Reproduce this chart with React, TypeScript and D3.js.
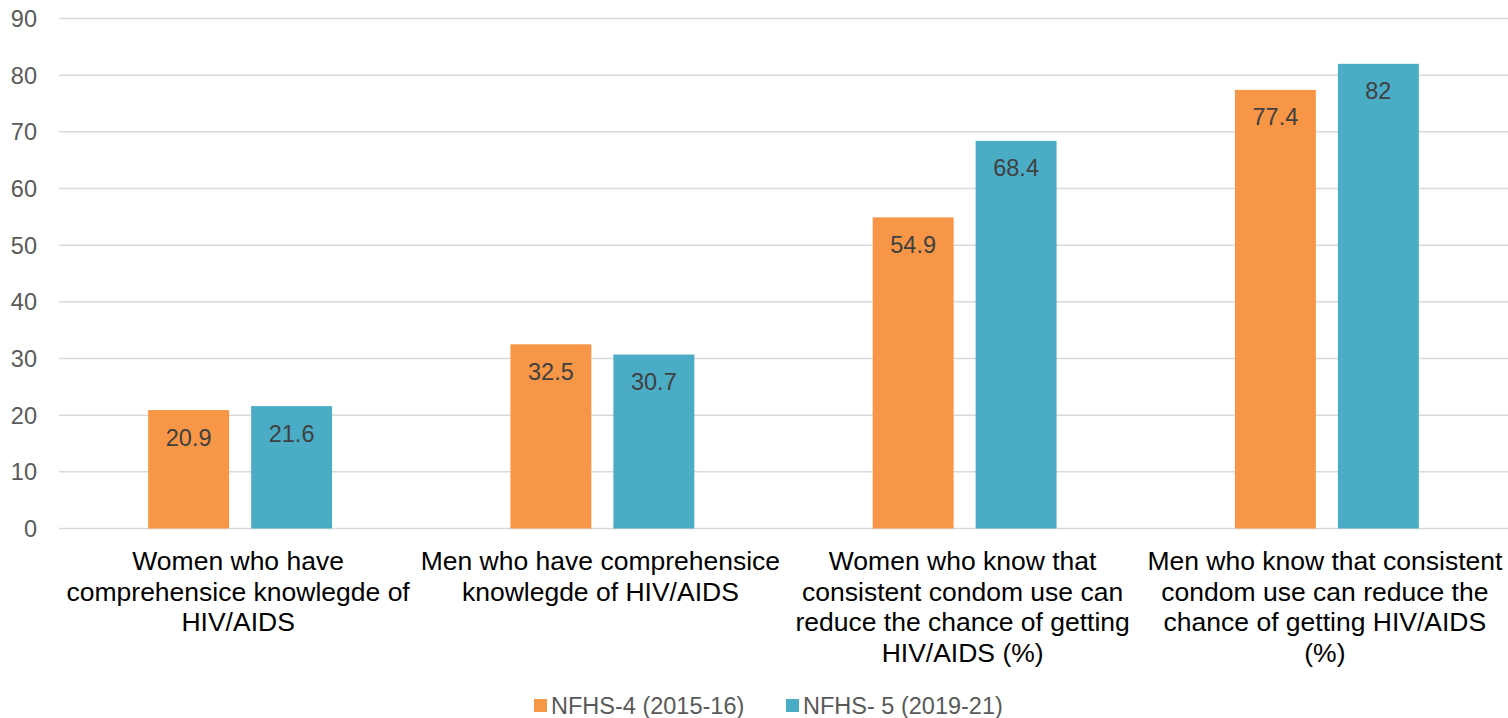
import React from "react";
import * as d3 from "d3";

const categories = [
  "Women who have\ncomprehensice knowlegde of\nHIV/AIDS",
  "Men who have comprehensice\nknowlegde of HIV/AIDS",
  "Women who know that\nconsistent condom use can\nreduce the chance of getting\nHIV/AIDS (%)",
  "Men who know that consistent\ncondom use can reduce the\nchance of getting HIV/AIDS\n(%)",
];
const seriesNames = ["NFHS-4 (2015-16)", "NFHS- 5 (2019-21)"];
const nfhs4 = [20.9, 32.5, 54.9, 77.4];
const nfhs5 = [21.6, 30.7, 68.4, 82];
const yTicks = [0, 10, 20, 30, 40, 50, 60, 70, 80, 90];
const colors = ["#F79646", "#4BACC6"];

export default function App() {
  const W = 1508;
  const H = 718;
  const x0 = d3.scaleBand<number>().domain(d3.range(categories.length)).range([59, 1508]).paddingInner(0).paddingOuter(0);
  const x1 = d3.scaleBand<number>().domain([0, 1]).range([0, x0.bandwidth()]).paddingInner(0.214).paddingOuter(0.866);
  const y = d3.scaleLinear().domain([0, 90]).range([528.5, 18.5]);
  const values = [nfhs4, nfhs5];
  const font = "'Liberation Sans', Arial, sans-serif";

  return (
    <svg width={W} height={H} style={{ position: "absolute", left: 0, top: 0, background: "#fff" }} fontFamily={font}>
      {yTicks.map((t) => (
        <g key={t}>
          <line x1={59} x2={1508} y1={y(t)} y2={y(t)} stroke="#d9d9d9" strokeWidth={1.5} />
          <text x={37} y={y(t)} dy="0.36em" textAnchor="end" fontSize={23.5} fill="#595959">{t}</text>
        </g>
      ))}
      {categories.map((c, i) => (
        <g key={i} transform={`translate(${x0(i)},0)`}>
          {values.map((vals, s) => (
            <g key={s}>
              <rect x={x1(s)} y={y(vals[i])} width={x1.bandwidth()} height={y(0) - y(vals[i])} fill={colors[s]} />
              <text x={(x1(s) as number) + x1.bandwidth() / 2} y={y(vals[i]) + 35.5} textAnchor="middle" fontSize={23.5} fill="#404040">{vals[i]}</text>
            </g>
          ))}
          {c.split("\n").map((line, k) => (
            <text key={k} x={x0.bandwidth() / 2 - 2} y={570 + k * 30.5} textAnchor="middle" fontSize={26.5} fill="#000">{line}</text>
          ))}
        </g>
      ))}
      {seriesNames.map((n, s) => {
        const lx = [534, 786][s];
        return (
          <g key={n}>
            <rect x={lx} y={699} width={13} height={13} fill={colors[s]} />
            <text x={lx + 17} y={714} fontSize={23.5} fill="#595959">{n}</text>
          </g>
        );
      })}
    </svg>
  );
}
